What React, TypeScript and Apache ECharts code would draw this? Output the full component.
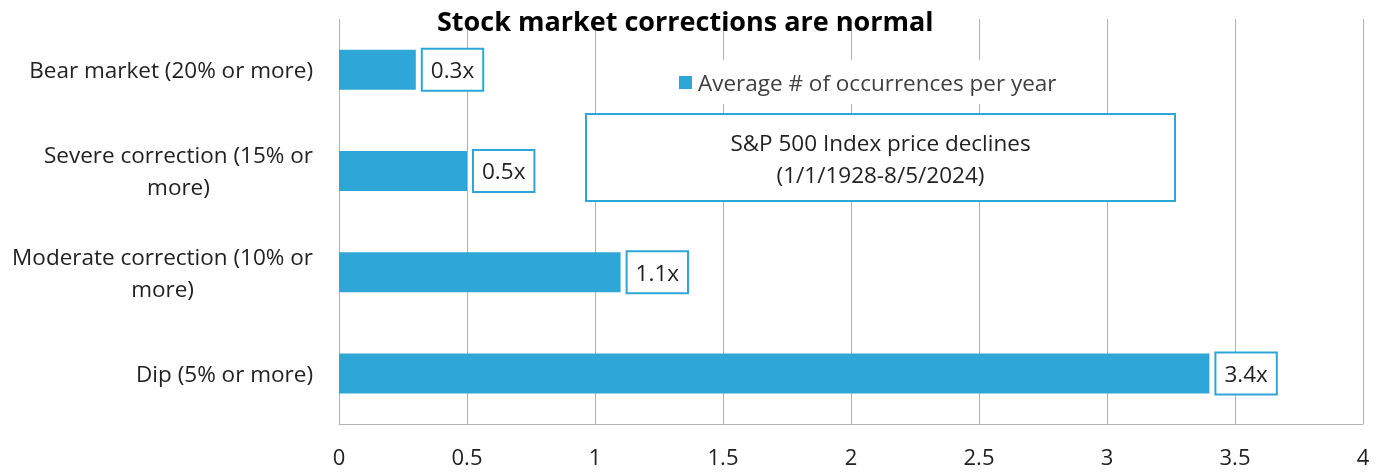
import React, { useEffect, useRef } from "react";
import * as echarts from "echarts";

const categories = [
  "Bear market (20% or more)",
  "Severe correction (15% or\nmore)",
  "Moderate correction (10% or\nmore)",
  "Dip (5% or more)",
];
const values = [0.3, 0.5, 1.1, 3.4];
const seriesName = "Average # of occurrences per year";
const titleText = "Stock market corrections are normal";
const noteLines = ["S&P 500 Index price declines", "(1/1/1928-8/5/2024)"];

const FONT = "'Open Sans', 'Noto Sans', sans-serif";
const BLUE = "#2ea6d7";
const GRID = "#b3b3b3";
const FS = 22.5;

export default function App() {
  const ref = useRef<HTMLDivElement>(null);
  useEffect(() => {
    if (!ref.current) return;
    const chart = echarts.init(ref.current, undefined, { renderer: "svg" });
    chart.setOption({
      animation: false,
      textStyle: { fontFamily: FONT },
      title: {
        text: titleText,
        left: 437,
        top: 4,
        padding: 0,
        textStyle: { fontSize: 27, lineHeight: 32, fontWeight: "bold", color: "#000", fontFamily: FONT },
      },
      legend: {
        data: [seriesName],
        left: 629,
        top: 60,
        padding: [11, 40, 10, 50],
        backgroundColor: "#fff",
        itemWidth: 13,
        itemHeight: 13,
        itemGap: 6,
        icon: "rect",
        textStyle: { fontSize: FS, color: "#404040", fontFamily: FONT, padding: [0, 0, 0, 1] },
        z: 10,
      },
      grid: { left: 339, right: 20, top: 19, bottom: 48, containLabel: false },
      xAxis: {
        type: "value",
        min: 0,
        max: 4,
        interval: 0.5,
        axisLine: { show: true, lineStyle: { color: GRID, width: 1 } },
        axisTick: { show: false },
        splitLine: { show: true, lineStyle: { color: GRID, width: 1 } },
        axisLabel: { fontSize: 22, lineHeight: 22, color: "#222", margin: 21, fontFamily: FONT },
      },
      yAxis: {
        type: "category",
        inverse: true,
        data: categories,
        axisLine: { show: false },
        axisTick: { show: false },
        axisLabel: {
          margin: 26,
          formatter: (v: string) =>
            v
              .split("\n")
              .map((l) => `{c|${l}}`)
              .join("\n"),
          rich: {
            c: { align: "center", fontSize: FS, lineHeight: 32, color: "#222", fontFamily: FONT },
          },
        },
      },
      series: [
        {
          name: seriesName,
          type: "bar",
          data: values,
          barWidth: 40,
          itemStyle: { color: BLUE },
          label: {
            show: true,
            position: "right",
            distance: 7,
            formatter: "{c}x",
            fontSize: FS,
            lineHeight: 24,
            color: "#222",
            fontFamily: FONT,
            backgroundColor: "#fff",
            borderColor: BLUE,
            borderWidth: 2,
            padding: [8, 8, 8, 8],
          },
        },
      ],
      graphic: [
        {
          type: "rect",
          z: 100,
          shape: { x: 586, y: 114, width: 589, height: 87 },
          style: { fill: "#fff", stroke: BLUE, lineWidth: 2 },
        },
        {
          type: "text",
          z: 101,
          x: 880.5,
          y: 158,
          style: {
            text: noteLines.join("\n"),
            fontSize: FS,
            lineHeight: 32,
            fill: "#222",
            fontFamily: FONT,
            align: "center",
            verticalAlign: "middle",
          },
        },
      ],
    });
    return () => chart.dispose();
  }, []);
  return (
    <div
      ref={ref}
      style={{ position: "fixed", left: 0, top: 0, width: 1383, height: 472 }}
    />
  );
}
